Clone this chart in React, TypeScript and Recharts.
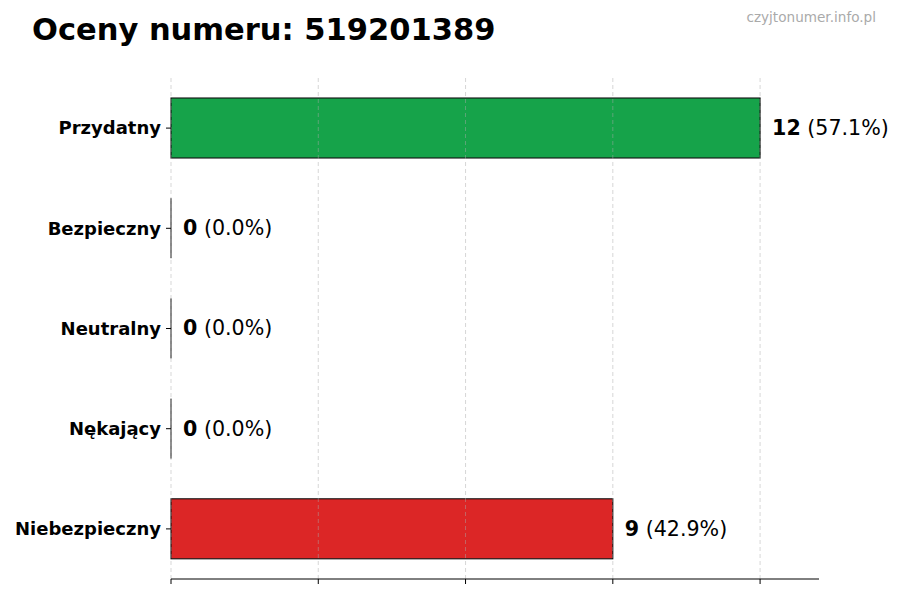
import { BarChart, Bar, XAxis, YAxis, Cell, LabelList, ReferenceLine } from 'recharts'

const categories = ['Przydatny', 'Bezpieczny', 'Neutralny', 'Nękający', 'Niebezpieczny']
const counts = [12, 0, 0, 0, 9]
const percents = ['57.1', '0.0', '0.0', '0.0', '42.9']
const colors = ['#16a34a', '#2563eb', '#6b7280', '#ea580c', '#dc2626']
const xTicks = [0, 3, 6, 9, 12]

const data = categories.map((name, i) => ({ name, count: counts[i] }))

const FONT = '"DejaVu Sans", sans-serif'

const BarShape = (props: any) => {
  const { x, y, width, height, fill } = props
  if (!width || width < 0.5) {
    return <line x1={x} x2={x} y1={y} y2={y + height} stroke="#111" strokeWidth={1} />
  }
  return <rect x={x} y={y} width={width} height={height} fill={fill} stroke="#111" strokeWidth={1.1} />
}

const ValueLabel = (props: any) => {
  const { x, y, width, height, index } = props
  return (
    <text
      x={Number(x) + Number(width) + 12}
      y={Number(y) + Number(height) / 2}
      dominantBaseline="central"
      fontSize={20.6}
      fontFamily={FONT}
      fill="#000"
    >
      <tspan fontWeight="bold">{counts[index]}</tspan>
      <tspan> ({percents[index]}%)</tspan>
    </text>
  )
}

export default function App() {
  return (
    <div style={{ position: 'fixed', left: 0, top: 0, width: 900, height: 600, background: '#fff', fontFamily: FONT }}>
      <BarChart
        width={900}
        height={600}
        layout="vertical"
        data={data}
        margin={{ top: 78, right: 81, bottom: 11, left: 0 }}
      >
        <XAxis
          type="number"
          domain={[0, 13.2]}
          ticks={xTicks}
          tickFormatter={() => ''}
          tickSize={5}
          height={10}
          axisLine={{ stroke: '#000' }}
          tickLine={{ stroke: '#000' }}
        />
        <YAxis
          type="category"
          dataKey="name"
          width={171}
          axisLine={false}
          tickSize={5}
          tickMargin={5}
          tickLine={{ stroke: '#000' }}
          tick={{ fill: '#000', fontSize: 18, fontWeight: 'bold', fontFamily: FONT }}
        />
        <Bar dataKey="count" barSize={60} shape={BarShape} isAnimationActive={false}>
          {data.map((d, i) => (
            <Cell key={d.name} fill={colors[i]} />
          ))}
          <LabelList dataKey="count" content={ValueLabel} />
        </Bar>
        {xTicks.map((t) => (
          <ReferenceLine key={t} x={t} stroke="#aaa" strokeOpacity={0.6} strokeDasharray="4 3" strokeWidth={0.8} />
        ))}
      </BarChart>
      <svg width={900} height={600} style={{ position: 'absolute', left: 0, top: 0, pointerEvents: 'none' }}>
        <text x={32} y={40} fontSize={30.5} fontWeight="bold" fontFamily={FONT} fill="#000">
          Oceny numeru: 519201389
        </text>
        <text x={876} y={22} fontSize={13.6} fontFamily={FONT} fill="#aaaaaa" textAnchor="end">
          czyjtonumer.info.pl
        </text>
      </svg>
    </div>
  )
}
